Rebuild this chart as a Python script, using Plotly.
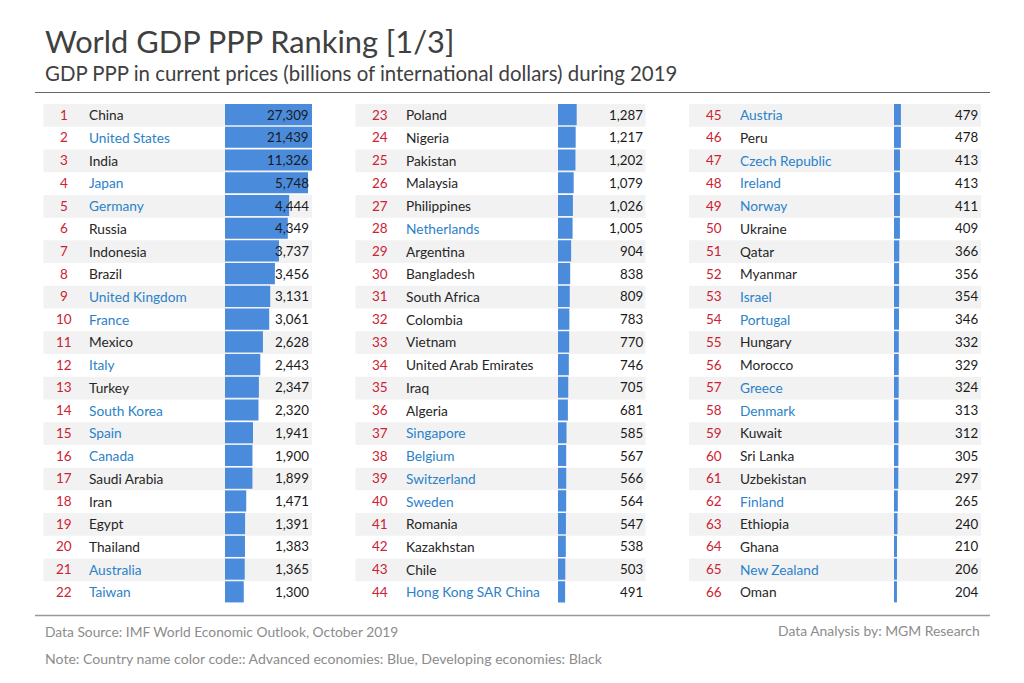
import plotly.graph_objects as go

# data
countries = ["China", "United States", "India", "Japan", "Germany", "Russia", "Indonesia", "Brazil",
             "United Kingdom", "France", "Mexico", "Italy", "Turkey", "South Korea", "Spain", "Canada",
             "Saudi Arabia", "Iran", "Egypt", "Thailand", "Australia", "Taiwan",
             "Poland", "Nigeria", "Pakistan", "Malaysia", "Philippines", "Netherlands", "Argentina",
             "Bangladesh", "South Africa", "Colombia", "Vietnam", "United Arab Emirates", "Iraq", "Algeria",
             "Singapore", "Belgium", "Switzerland", "Sweden", "Romania", "Kazakhstan", "Chile",
             "Hong Kong SAR China",
             "Austria", "Peru", "Czech Republic", "Ireland", "Norway", "Ukraine", "Qatar", "Myanmar",
             "Israel", "Portugal", "Hungary", "Morocco", "Greece", "Denmark", "Kuwait", "Sri Lanka",
             "Uzbekistan", "Finland", "Ethiopia", "Ghana", "New Zealand", "Oman"]
gdp_ppp = [27309, 21439, 11326, 5748, 4444, 4349, 3737, 3456, 3131, 3061, 2628, 2443, 2347, 2320, 1941, 1900,
           1899, 1471, 1391, 1383, 1365, 1300,
           1287, 1217, 1202, 1079, 1026, 1005, 904, 838, 809, 783, 770, 746, 705, 681, 585, 567, 566, 564,
           547, 538, 503, 491,
           479, 478, 413, 413, 411, 409, 366, 356, 354, 346, 332, 329, 324, 313, 312, 305, 297, 265, 240,
           210, 206, 204]
advanced = ["United States", "Japan", "Germany", "United Kingdom", "France", "Italy", "South Korea", "Spain",
            "Canada", "Australia", "Taiwan", "Netherlands", "Singapore", "Belgium", "Switzerland", "Sweden",
            "Hong Kong SAR China", "Austria", "Czech Republic", "Ireland", "Norway", "Israel", "Portugal",
            "Greece", "Denmark", "Finland", "New Zealand"]

W, H = 1024, 683
FONT = "Lato"
ROWS = 22
AXIS_MAX = 6025
top, bottom = 104, 604

# pixel positions of each column: stripe left, rank centre, name left, bar left, stripe right
columns = [(43.5, 64, 89, 225, 312), (355.5, 380, 406, 558, 645.5), (689, 714, 740, 894, 981)]


def px(x):
    return x / W


def py(y):
    return 1 - y / H


fig = go.Figure()
annotations = []
shapes = []

for c, (left, rank_x, name_x, bar_x, right) in enumerate(columns):
    suffix = "" if c == 0 else str(c + 1)
    start = c * ROWS
    ranks = list(range(start + 1, start + ROWS + 1))
    values = gdp_ppp[start:start + ROWS]
    names = countries[start:start + ROWS]

    fig.add_trace(go.Bar(x=values, y=ranks, orientation="h", width=0.93, offset=-0.5,
                         marker=dict(color="#4a8bdc", line=dict(width=0)),
                         xaxis="x" + suffix, yaxis="y" + suffix, showlegend=False))
    fig.layout["xaxis" + suffix] = dict(domain=[px(bar_x), px(right)], range=[0, AXIS_MAX], visible=False,
                                        anchor="y" + suffix)
    fig.layout["yaxis" + suffix] = dict(domain=[py(bottom), py(top)], range=[start + ROWS + 0.5, start + 0.5],
                                        visible=False, anchor="x" + suffix)

    for rank, name, value in zip(ranks, names, values):
        if (rank - start) % 2 == 1:
            shapes.append(dict(type="rect", xref="paper", yref="y" + suffix, x0=px(left), x1=px(right),
                               y0=rank - 0.5, y1=rank + 0.5, fillcolor="#f2f2f2", line_width=0, layer="below"))
        name_color = "#2b82c9" if name in advanced else "#262626"
        row = dict(xref="paper", yref="y" + suffix, y=rank, yanchor="middle", showarrow=False,
                   borderpad=0, borderwidth=0, yshift=0.7)
        annotations.append(dict(row, x=px(rank_x), xanchor="center", text=str(rank),
                                font=dict(family=FONT, size=13.5, color="#cc2233")))
        annotations.append(dict(row, x=px(name_x), xanchor="left", text=name,
                                font=dict(family=FONT, size=13.7, color=name_color)))
        annotations.append(dict(row, x=px(right - 3), xanchor="right", text=f"{value:,}",
                                font=dict(family=FONT, size=13.3, color="#1a1a1a")))

# title block and footer
page_text = [
    ("World GDP PPP Ranking [1/3]", 45, 41, "left", 30.8, "#404040"),
    ("GDP PPP in current prices (billions of international dollars) during 2019", 45, 73, "left", 20.4, "#404040"),
    ("Data Source: IMF World Economic Outlook, October 2019", 45, 631, "left", 13.8, "#8c8c8c"),
    ("Data Analysis by: MGM Research", 980, 630, "right", 13.9, "#8c8c8c"),
    ("Note: Country name color code:: Advanced economies: Blue, Developing economies: Black", 45, 658, "left", 14.1, "#8c8c8c"),
]
for text, x, y, anchor, size, color in page_text:
    annotations.append(dict(xref="paper", yref="paper", x=px(x), y=py(y), xanchor=anchor, yanchor="middle",
                            text=text, showarrow=False, borderpad=0, borderwidth=0,
                            font=dict(family=FONT, size=size, color=color)))

shapes.append(dict(type="line", xref="paper", yref="paper", x0=px(35), x1=px(990), y0=py(92.5), y1=py(92.5),
                   line=dict(color="#666666", width=1.2)))
shapes.append(dict(type="line", xref="paper", yref="paper", x0=px(35), x1=px(990), y0=py(615.5), y1=py(615.5),
                   line=dict(color="#999999", width=1.5)))

fig.update_layout(width=W, height=H, margin=dict(l=0, r=0, t=0, b=0), paper_bgcolor="white",
                  plot_bgcolor="rgba(0,0,0,0)", annotations=annotations, shapes=shapes)

fig.write_html("out.html", config=dict(displayModeBar=False),
               post_script="document.body.style.margin='0';document.body.style.overflow='hidden';")
